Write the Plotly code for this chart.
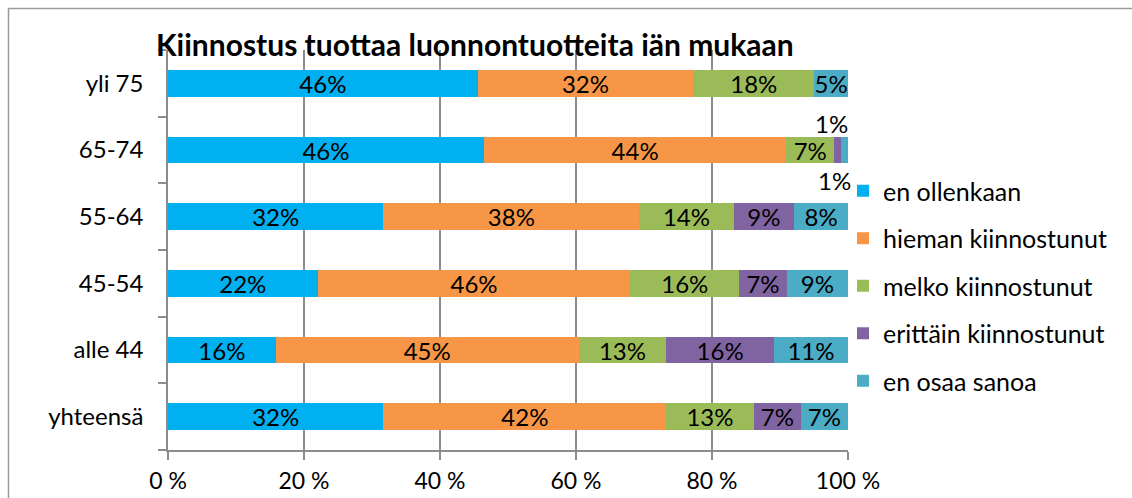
import plotly.graph_objects as go

categories = ["yhteensä", "alle 44", "45-54", "55-64", "65-74", "yli 75"]
series_names = ["en ollenkaan", "hieman kiinnostunut", "melko kiinnostunut",
                "erittäin kiinnostunut", "en osaa sanoa"]
colors = ["#00B0F0", "#F79646", "#9BBB59", "#8064A2", "#4BACC6"]

en_ollenkaan = [32, 16, 22, 32, 46, 46]
hieman = [42, 45, 46, 38, 44, 32]
melko = [13, 13, 16, 14, 7, 18]
erittain = [7, 16, 7, 9, 1, 0]
en_osaa = [7, 11, 9, 8, 1, 5]
series_values = [en_ollenkaan, hieman, melko, erittain, en_osaa]

x_tickvals = [0, 20, 40, 60, 80, 100]
x_ticktext = ["0 %", "20 %", "40 %", "60 %", "80 %", "100 %"]

FONT = "Lato"
FS = 24
fig = go.Figure()
totals = [sum(s[i] for s in series_values) for i in range(len(categories))]

annotations = []
for k, (name, vals, col) in enumerate(zip(series_names, series_values, colors)):
    texts = []
    for i, v in enumerate(vals):
        if v >= 4:
            texts.append(f"{v}%")
        else:
            texts.append("")
            if v > 0:
                cum = sum(series_values[j][i] for j in range(k))
                xc = (cum + v / 2) / totals[i] * 100
                annotations.append(dict(
                    x=xc, y=categories[i], xref="x", yref="y",
                    text=f"{v}%", showarrow=False,
                    yshift=27 if k == 3 else -30,
                    xshift=-6 if k == 3 else -10,
                    font=dict(family=FONT, size=FS, color="black")))
    fig.add_trace(go.Bar(
        y=categories, x=vals, name=name, orientation="h",
        legendgroup=name,
        marker=dict(color=col, line=dict(width=0)),
        text=texts, textposition="inside", insidetextanchor="middle",
        constraintext="none",
        textfont=dict(family=FONT, size=FS, color="black"),
        hoverinfo="skip"))

# outer chart border
shapes = [dict(type="rect", xref="paper", yref="paper",
               x0=(8.5 - 168) / 680, x1=1.6, y0=-0.3, y1=(450 - 8.5) / 400,
               line=dict(color="#9a9a9a", width=1.5), layer="below")]

fig.update_layout(
    barmode="stack", barnorm="percent", bargap=0.6,
    width=1132, height=498,
    margin=dict(l=168, r=284, t=50, b=48, autoexpand=False),
    paper_bgcolor="white", plot_bgcolor="white",
    title=dict(text="<b>Kiinnostus tuottaa luonnontuotteita iän mukaan</b>",
               x=156 / 1132, xanchor="left", y=1 - 45 / 498, yanchor="middle",
               font=dict(family=FONT, size=30, color="black")),
    legend=dict(xref="container", yref="container",
                x=843 / 1132, xanchor="left", y=1 - 168 / 498, yanchor="top",
                traceorder="grouped",
                font=dict(family=FONT, size=25, color="black"),
                tracegroupgap=12, itemsizing="constant", itemwidth=30,
                bgcolor="rgba(0,0,0,0)"),
    xaxis=dict(range=[0, 100], tickvals=x_tickvals, ticktext=x_ticktext,
               showgrid=True, gridcolor="#8c8c8c", gridwidth=1.5,
               showline=True, linecolor="#8c8c8c", linewidth=1.5,
               ticks="outside", ticklen=8, tickcolor="#8c8c8c", tickwidth=1.5,
               tickfont=dict(family=FONT, size=23, color="black"),
               ticklabelstandoff=2, automargin=False,
               zeroline=False, fixedrange=True),
    yaxis=dict(categoryorder="array", categoryarray=categories,
               tickson="boundaries", showgrid=False,
               showline=True, linecolor="#8c8c8c", linewidth=1.5,
               ticks="outside", ticklen=8, tickcolor="#8c8c8c", tickwidth=1.5,
               tickfont=dict(family=FONT, size=FS, color="black"),
               ticklabelstandoff=18, automargin=False, fixedrange=True),
    annotations=annotations,
    shapes=shapes,
)

fig.write_html("out.html", config={"displayModeBar": False},
               post_script="document.body.style.margin='0';")
